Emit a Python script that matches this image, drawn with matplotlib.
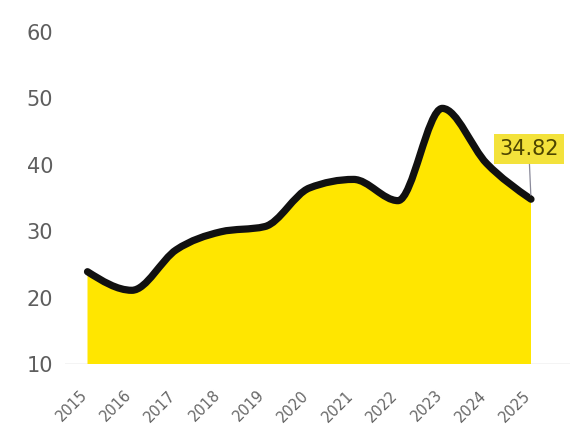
import numpy as np
import matplotlib
matplotlib.use("Agg")
import matplotlib.pyplot as plt
import matplotlib.transforms as mtransforms
from matplotlib.path import Path
from matplotlib.patches import PathPatch

# dados da série
anos = [2015, 2016, 2017, 2018, 2019, 2020, 2021, 2022, 2023, 2024, 2025]
valores = [23.9, 21.1, 27.2, 29.9, 30.7, 36.5, 37.8, 34.6, 48.5, 40.2, 34.82]
rotulo_final = "34.82"
y_ticks = [10, 20, 30, 40, 50, 60]

AMARELO = "#ffe600"
CINZA = "#5e5e5e"


def inclinacoes_monotonas(x, y):
    '''Calcula as tangentes de uma curva cúbica monótona (como a curveMonotoneX)'''
    x = np.asarray(x, float)
    y = np.asarray(y, float)
    n = len(x)
    t = np.zeros(n)
    for i in range(1, n - 1):
        h0, h1 = x[i] - x[i-1], x[i+1] - x[i]
        s0, s1 = (y[i] - y[i-1]) / h0, (y[i+1] - y[i]) / h1
        p = (s0 * h1 + s1 * h0) / (h0 + h1)
        t[i] = (np.sign(s0) + np.sign(s1)) * min(abs(s0), abs(s1), 0.5 * abs(p))
    h = x[1] - x[0]
    t[0] = (3 * (y[1] - y[0]) / h - t[1]) / 2
    h = x[-1] - x[-2]
    t[-1] = (3 * (y[-1] - y[-2]) / h - t[-2]) / 2
    return t


def caminho_curva(x, y):
    '''Monta os vértices e códigos de Bézier cúbicas passando pelos pontos'''
    t = inclinacoes_monotonas(x, y)
    verts = [(x[0], y[0])]
    codes = [Path.MOVETO]
    for i in range(len(x) - 1):
        dx = (x[i+1] - x[i]) / 3
        verts += [(x[i] + dx, y[i] + dx * t[i]),
                  (x[i+1] - dx, y[i+1] - dx * t[i+1]),
                  (x[i+1], y[i+1])]
        codes += [Path.CURVE4] * 3
    return verts, codes


W, H = 572, 440
fig = plt.figure(figsize=(W / 100, H / 100), dpi=100)
# posição do eixo em pixels: esquerda 65, direita 570, base 364, topo 32
ax = fig.add_axes([65 / W, (H - 364) / H, (570 - 65) / W, (364 - 32) / H])

px_ano = (531 - 87.5) / 10
ax.set_xlim(2015 - (87.5 - 65) / px_ano, 2025 + (570 - 531) / px_ano)
ax.set_ylim(10, 60)

verts, codes = caminho_curva(anos, valores)

# área preenchida até a base
base = ax.get_ylim()[0]
verts_area = verts + [(anos[-1], base), (anos[0], base), (anos[0], valores[0])]
codes_area = codes + [Path.LINETO, Path.LINETO, Path.CLOSEPOLY]
ax.add_patch(PathPatch(Path(verts_area, codes_area), facecolor=AMARELO,
                       edgecolor="none", zorder=2))

# linha preta por cima
ax.add_patch(PathPatch(Path(verts, codes), facecolor="none", edgecolor="#111111",
                       linewidth=5.2, capstyle="round", joinstyle="round", zorder=3))

# linha de base
ax.axhline(base, color="#c8c8c8", linewidth=1.0, zorder=1)

# rótulo do último valor
ax.annotate(rotulo_final, xy=(anos[-1], valores[-1]), xytext=(2024.95, 42.4),
            ha="center", va="center", fontsize=15, family="DejaVu Sans",
            color="#4d4500",
            bbox=dict(boxstyle="square,pad=0.25", facecolor="#f2df26",
                      edgecolor="none", alpha=0.9),
            arrowprops=dict(arrowstyle="-", color="#8a8a9a", linewidth=0.9,
                            shrinkA=0, shrinkB=3),
            zorder=5)

for lado in ["top", "right", "left", "bottom"]:
    ax.spines[lado].set_visible(False)

ax.set_yticks(y_ticks)
ax.set_yticklabels([str(v) for v in y_ticks], family="DejaVu Sans",
                   fontsize=15, color=CINZA)
ax.set_xticks(anos)
ax.set_xticklabels([str(a) for a in anos], family="DejaVu Sans",
                   fontsize=10.5, color="#666666")
ax.tick_params(axis="y", length=0, pad=8.5)
ax.tick_params(axis="x", length=0, pad=17)

# desloca os anos um pouco para a esquerda
desloca = mtransforms.ScaledTranslation(-8 / 100, 0, fig.dpi_scale_trans)
for lab in ax.get_xticklabels():
    lab.set_rotation(45)
    lab.set_ha("right")
    lab.set_rotation_mode("anchor")
    lab.set_transform(lab.get_transform() + desloca)

fig.savefig("out.png", dpi=100, facecolor="white")
